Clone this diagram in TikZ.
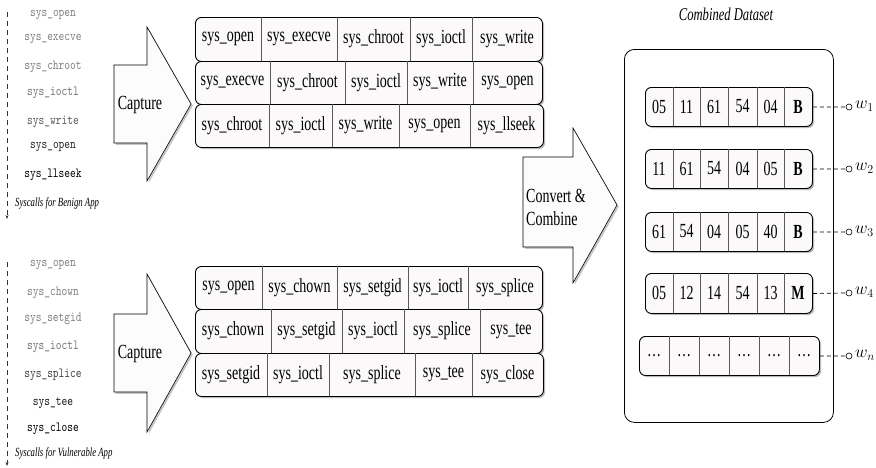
\documentclass[tikz,border=0pt]{standalone}
\usepackage{fontspec}
\setmainfont{Liberation Serif}
\newfontfamily\narrowserif{Liberation Serif}[FakeStretch=0.7]
\newfontfamily\narrowital{Liberation Serif Italic}[FakeStretch=0.7]
\newfontfamily\narrowmono{lmmono10-regular.otf}[FakeStretch=0.78]
\usetikzlibrary{shadows,arrows.meta}
\definecolor{cellfill}{HTML}{FBF9F9}
\tikzset{
  rowbox/.style={draw=black, line width=0.9pt, rounded corners=6pt, fill=cellfill,
    drop shadow={shadow xshift=1.6pt, shadow yshift=-1.6pt, fill=black!45, opacity=0.6}},
  divider/.style={draw=black!65, line width=0.7pt},
  celltxt/.style={font=\narrowserif\fontsize{20}{22}\selectfont, inner sep=0pt},
  numtxt/.style={font=\narrowserif\fontsize{20}{22}\selectfont, inner sep=0pt},
  bigarrow/.style={draw=black, line width=0.6pt, fill=black!1,
    drop shadow={shadow xshift=1.8pt, shadow yshift=-1.8pt, fill=black!45, opacity=0.5}},
  lbl/.style={font=\narrowserif\fontsize{20}{23}\selectfont, inner sep=0pt},
  calltxt/.style={font=\narrowmono\fontsize{14}{15}\selectfont, inner sep=0pt},
  captxt/.style={font=\narrowital\fontsize{12.5}{14}\selectfont, inner sep=0pt, anchor=west},
  timeline/.style={draw=black!80, line width=0.6pt, dash pattern=on 5pt off 4pt, -{Stealth[length=4pt,width=3pt]}},
  wline/.style={draw=black, line width=0.7pt, dash pattern=on 4pt off 3pt},
  wdot/.style={circle, draw=black, line width=0.6pt, fill=white, inner sep=0pt, minimum size=6pt},
  wlbl/.style={font=\fontsize{17}{18}\selectfont, inner sep=0pt, anchor=west},
}
% #1 text style, #2 name, #3 top, #4 bottom, #5 list a/b/text
\newcommand\seqrow[5][celltxt]{%
  \foreach \a/\b/\t [count=\i] in {#5}{%
    \ifnum\i=1 \xdef\rowleft{\a}\fi
    \xdef\rowright{\b}}%
  \pgfmathsetmacro\rw{\rowright-\rowleft}%
  \pgfmathsetmacro\rh{#4-#3}%
  \node[rowbox, anchor=north west, minimum width=\rw pt, minimum height=\rh pt, inner sep=0pt] (#2) at (\rowleft,#3) {};
  \foreach \a/\b/\t [count=\i] in {#5}{%
    \ifnum\i>1 \draw[divider] (\a,#3) -- (\a,#4);\fi
    \node[#1] (#2c\i) at ({(\a+\b)/2},{(#3+#4)/2}) {\t};}%
}
\begin{document}
\begin{tikzpicture}[x=1pt,y=-1pt]
\useasboundingbox (0,0) rectangle (876,467);

% ---------- left timelines ----------
\coordinate (ba) at (7,12);
\coordinate (bb) at (7,219);
\draw[timeline] (ba) -- (bb);
\node[calltxt, text=black!50] (bs1) at (53,15) {sys\_open};
\node[calltxt, text=black!50] (bs2) at (53,39) {sys\_execve};
\node[calltxt, text=black!50] (bs3) at (53,67) {sys\_chroot};
\node[calltxt, text=black!55] (bs4) at (53,93) {sys\_ioctl};
\node[calltxt, text=black!65] (bs5) at (53,122) {sys\_write};
\node[calltxt, text=black!85] (bs6) at (53,147) {sys\_open};
\node[calltxt, text=black] (bs7) at (53,175) {sys\_llseek};
\node[captxt] (bcap) at (15,203) {Syscalls for Benign App};

\coordinate (va) at (7,262);
\coordinate (vb) at (7,466);
\draw[timeline] (va) -- (vb);
\node[calltxt, text=black!50] (vs1) at (53,265) {sys\_open};
\node[calltxt, text=black!50] (vs2) at (53,293) {sys\_chown};
\node[calltxt, text=black!50] (vs3) at (53,319) {sys\_setgid};
\node[calltxt, text=black!55] (vs4) at (53,347) {sys\_ioctl};
\node[calltxt, text=black!75] (vs5) at (53,375) {sys\_splice};
\node[calltxt, text=black!90] (vs6) at (53,403) {sys\_tee};
\node[calltxt, text=black] (vs7) at (53,429) {sys\_close};
\node[captxt] (vcap) at (15,453) {Syscalls for Vulnerable App};

% ---------- capture arrows ----------
\draw[bigarrow] (114,65) -- (147,65) -- (147,27) -- (191,104) -- (147,181) -- (147,143) -- (114,143) -- cycle;
\node[lbl] (cap1) at (140,105) {Capture};
\draw[bigarrow] (114,314) -- (147,314) -- (147,274) -- (191,353) -- (147,432) -- (147,392) -- (114,392) -- cycle;
\node[lbl] (cap2) at (140,354) {Capture};

% ---------- benign sequences ----------
\seqrow{s1}{17}{61}{195/261/sys\_open, 261/337/sys\_execve, 337/410/sys\_chroot, 410/472/sys\_ioctl, 472/542/sys\_write}
\seqrow{s2}{61}{104}{195/270/sys\_execve, 270/345/sys\_chroot, 345/407/sys\_ioctl, 407/473/sys\_write, 473/542/sys\_open}
\seqrow{s3}{104}{147}{195/269/sys\_chroot, 269/332/sys\_ioctl, 332/399/sys\_write, 399/470/sys\_open, 470/543/sys\_llseek}

% ---------- vulnerable sequences ----------
\seqrow{t1}{266}{309}{195/262/sys\_open, 262/337/sys\_chown, 337/408/sys\_setgid, 408/468/sys\_ioctl, 468/542/sys\_splice}
\seqrow{t2}{309}{353}{195/271/sys\_chown, 271/342/sys\_setgid, 342/404/sys\_ioctl, 404/480/sys\_splice, 480/542/sys\_tee}
\seqrow{t3}{353}{396}{195/267/sys\_setgid, 267/329/sys\_ioctl, 329/415/sys\_splice, 415/472/sys\_tee, 472/543/sys\_close}

% ---------- convert arrow ----------
\draw[bigarrow] (523,157) -- (573,157) -- (573,128) -- (617,205) -- (573,283) -- (573,247) -- (523,247) -- cycle;
\node[lbl, anchor=west, align=left] (conv) at (526,207) {Convert \&\\Combine};

% ---------- combined dataset ----------
\node[font=\narrowital\fontsize{18}{20}\selectfont] (dstitle) at (726,14) {Combined Dataset};
\node[draw=black, line width=0.8pt, rounded corners=10pt, fill=white, anchor=north west,
  minimum width=209pt, minimum height=373pt, inner sep=0pt] (ds) at (624,49) {};

\seqrow[numtxt]{d1}{87}{126}{645/673/05, 673/700/11, 700/728/61, 728/757/54, 757/784/04, 784/812/\textbf{B}}
\seqrow[numtxt]{d2}{149}{188}{645/673/11, 673/700/61, 700/728/54, 728/757/04, 757/784/05, 784/812/\textbf{B}}
\seqrow[numtxt]{d3}{212}{251}{645/673/61, 673/700/54, 700/728/04, 728/757/05, 757/784/40, 784/812/\textbf{B}}
\seqrow[numtxt]{d4}{273}{313}{645/673/05, 673/700/12, 700/728/14, 728/757/54, 757/784/13, 784/812/\textbf{M}}
\seqrow[numtxt]{dn}{336}{375}{639/669/\dots, 669/699/\dots, 699/729/\dots, 729/759/\dots, 759/789/\dots, 789/819/\dots}

% ---------- weights ----------
\node[wdot] (o1) at (849,107) {};
\node[wdot] (o2) at (849,169) {};
\node[wdot] (o3) at (849,232) {};
\node[wdot] (o4) at (849,293) {};
\node[wdot] (on) at (849,356) {};
\draw[wline] (d1.east) -- (o1.west);
\draw[wline] (d2.east) -- (o2.west);
\draw[wline] (d3.east) -- (o3.west);
\draw[wline] (d4.east) -- (o4.west);
\draw[wline] (dn.east) -- (on.west);
\node[wlbl] (w1) at (855,106) {$w_1$};
\node[wlbl] (w2) at (855,168) {$w_2$};
\node[wlbl] (w3) at (855,231) {$w_3$};
\node[wlbl] (w4) at (855,292) {$w_4$};
\node[wlbl] (wn) at (855,355) {$w_n$};
\end{tikzpicture}
\end{document}
